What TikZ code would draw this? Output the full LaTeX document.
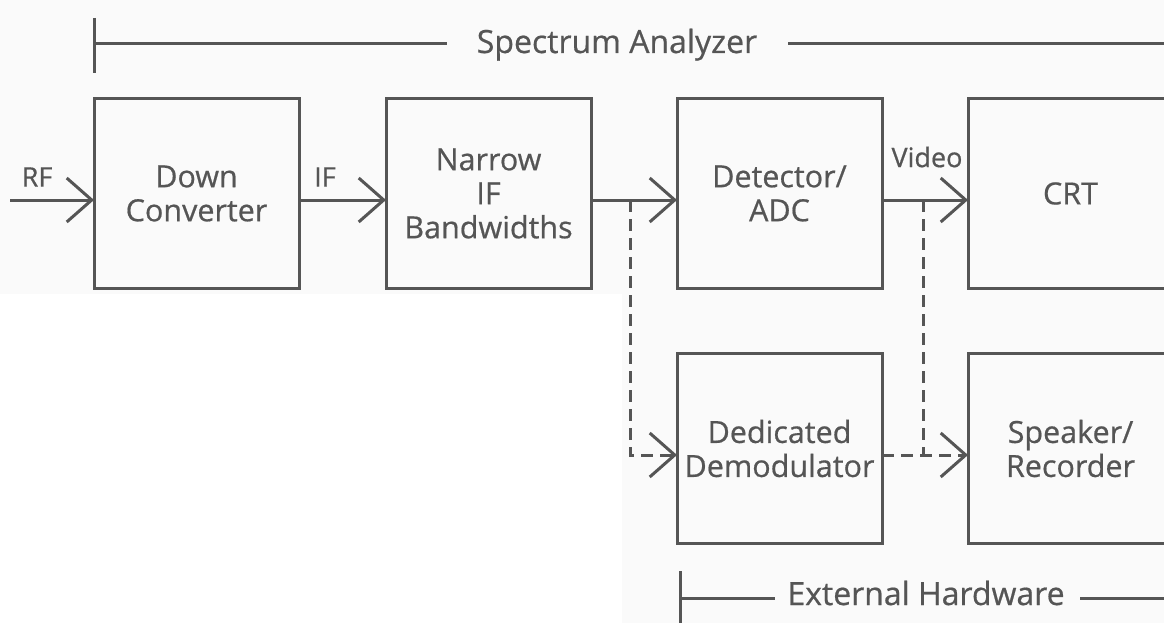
\documentclass[tikz,border=0pt]{standalone}
\usepackage{fontspec}
\setmainfont{Open Sans}[FakeBold=0.6]
\usetikzlibrary{positioning, arrows.meta}
\definecolor{ink}{HTML}{555555}

\begin{document}
\begin{tikzpicture}[x=1pt, y=-1pt]
  \tikzset{
    block/.style={
      rectangle,
      draw=ink,
      line width=3pt,
      text=ink,
      align=center,
      font=\fontsize{30.5}{34}\selectfont,
      minimum width=205pt, % box size as in the drawing
      minimum height=190pt,
      inner sep=0pt,
      outer sep=0pt,
    },
    sig/.style={draw=ink, line width=3pt, -{Straight Barb[length=25pt, width=44pt]}},
    tap/.style={sig, dash pattern=on 12pt off 7pt},
    tapline/.style={draw=ink, line width=3pt, dash pattern=on 12pt off 7pt},
    tag/.style={text=ink, font=\fontsize{27}{30}\selectfont, inner sep=0pt},
    span/.style={text=ink, font=\fontsize{32}{36}\selectfont, inner sep=0pt},
    bar/.style={draw=ink, line width=3pt},
  }

  % page
  \useasboundingbox (0,0) rectangle (1164,623);
  \clip (0,0) rectangle (1164,623);
  \fill[gray!4] (0,0) rectangle (1164,623);
  \fill[white] (0,294) rectangle (622,623);

  % analyzer chain
  \node[block] (down) at (196.5,193.5) {Down\\Converter};
  \node[block, right=87pt of down] (nifbw) {Narrow\\IF\\Bandwidths};
  \node[block, right=86pt of nifbw] (det) {Detector/\\ADC};
  \node[block, right=86pt of det] (crt) {CRT};

  % external hardware
  \node[block, below=65pt of det] (dem) {Dedicated\\Demodulator};
  \node[block, below=65pt of crt] (spk) {Speaker/\\Recorder};

  % signal lines
  \coordinate (sigy) at (10,200);
  \coordinate (tapy) at (0,455);
  \coordinate (tap1) at (630,200);
  \coordinate (tap2) at (923,200);

  \draw[sig] (sigy) -- (sigy -| down.west);
  \draw[sig] (sigy -| down.east) -- (sigy -| nifbw.west);
  \draw[sig] (sigy -| nifbw.east) -- (sigy -| det.west);
  \draw[sig] (sigy -| det.east) -- (sigy -| crt.west);

  \draw[tap] (tap1) |- (tapy -| dem.west);
  \draw[tapline] (tap2) -- (tap2 |- tapy);
  \draw[tap] (tapy -| dem.east) -- (tapy -| spk.west);

  \node[tag] (rf) at (37,177) {RF};
  \node[tag] (iflbl) at (325,177) {IF};
  \node[tag] (video) at (927,157) {Video};

  % brackets
  \node[span, anchor=base] (sa) at (617,53) {Spectrum Analyzer};
  \draw[bar] (94,18) -- (94,73);
  \draw[bar] (94,44) -- (447,44);
  \draw[bar] (788,44) -- (1170,44);

  \node[span, anchor=base] (ext) at (926,605) {External Hardware};
  \draw[bar] (680,571) -- (680,630);
  \draw[bar] (680,598) -- (775,598);
  \draw[bar] (1080,598) -- (1170,598);
\end{tikzpicture}
\end{document}
